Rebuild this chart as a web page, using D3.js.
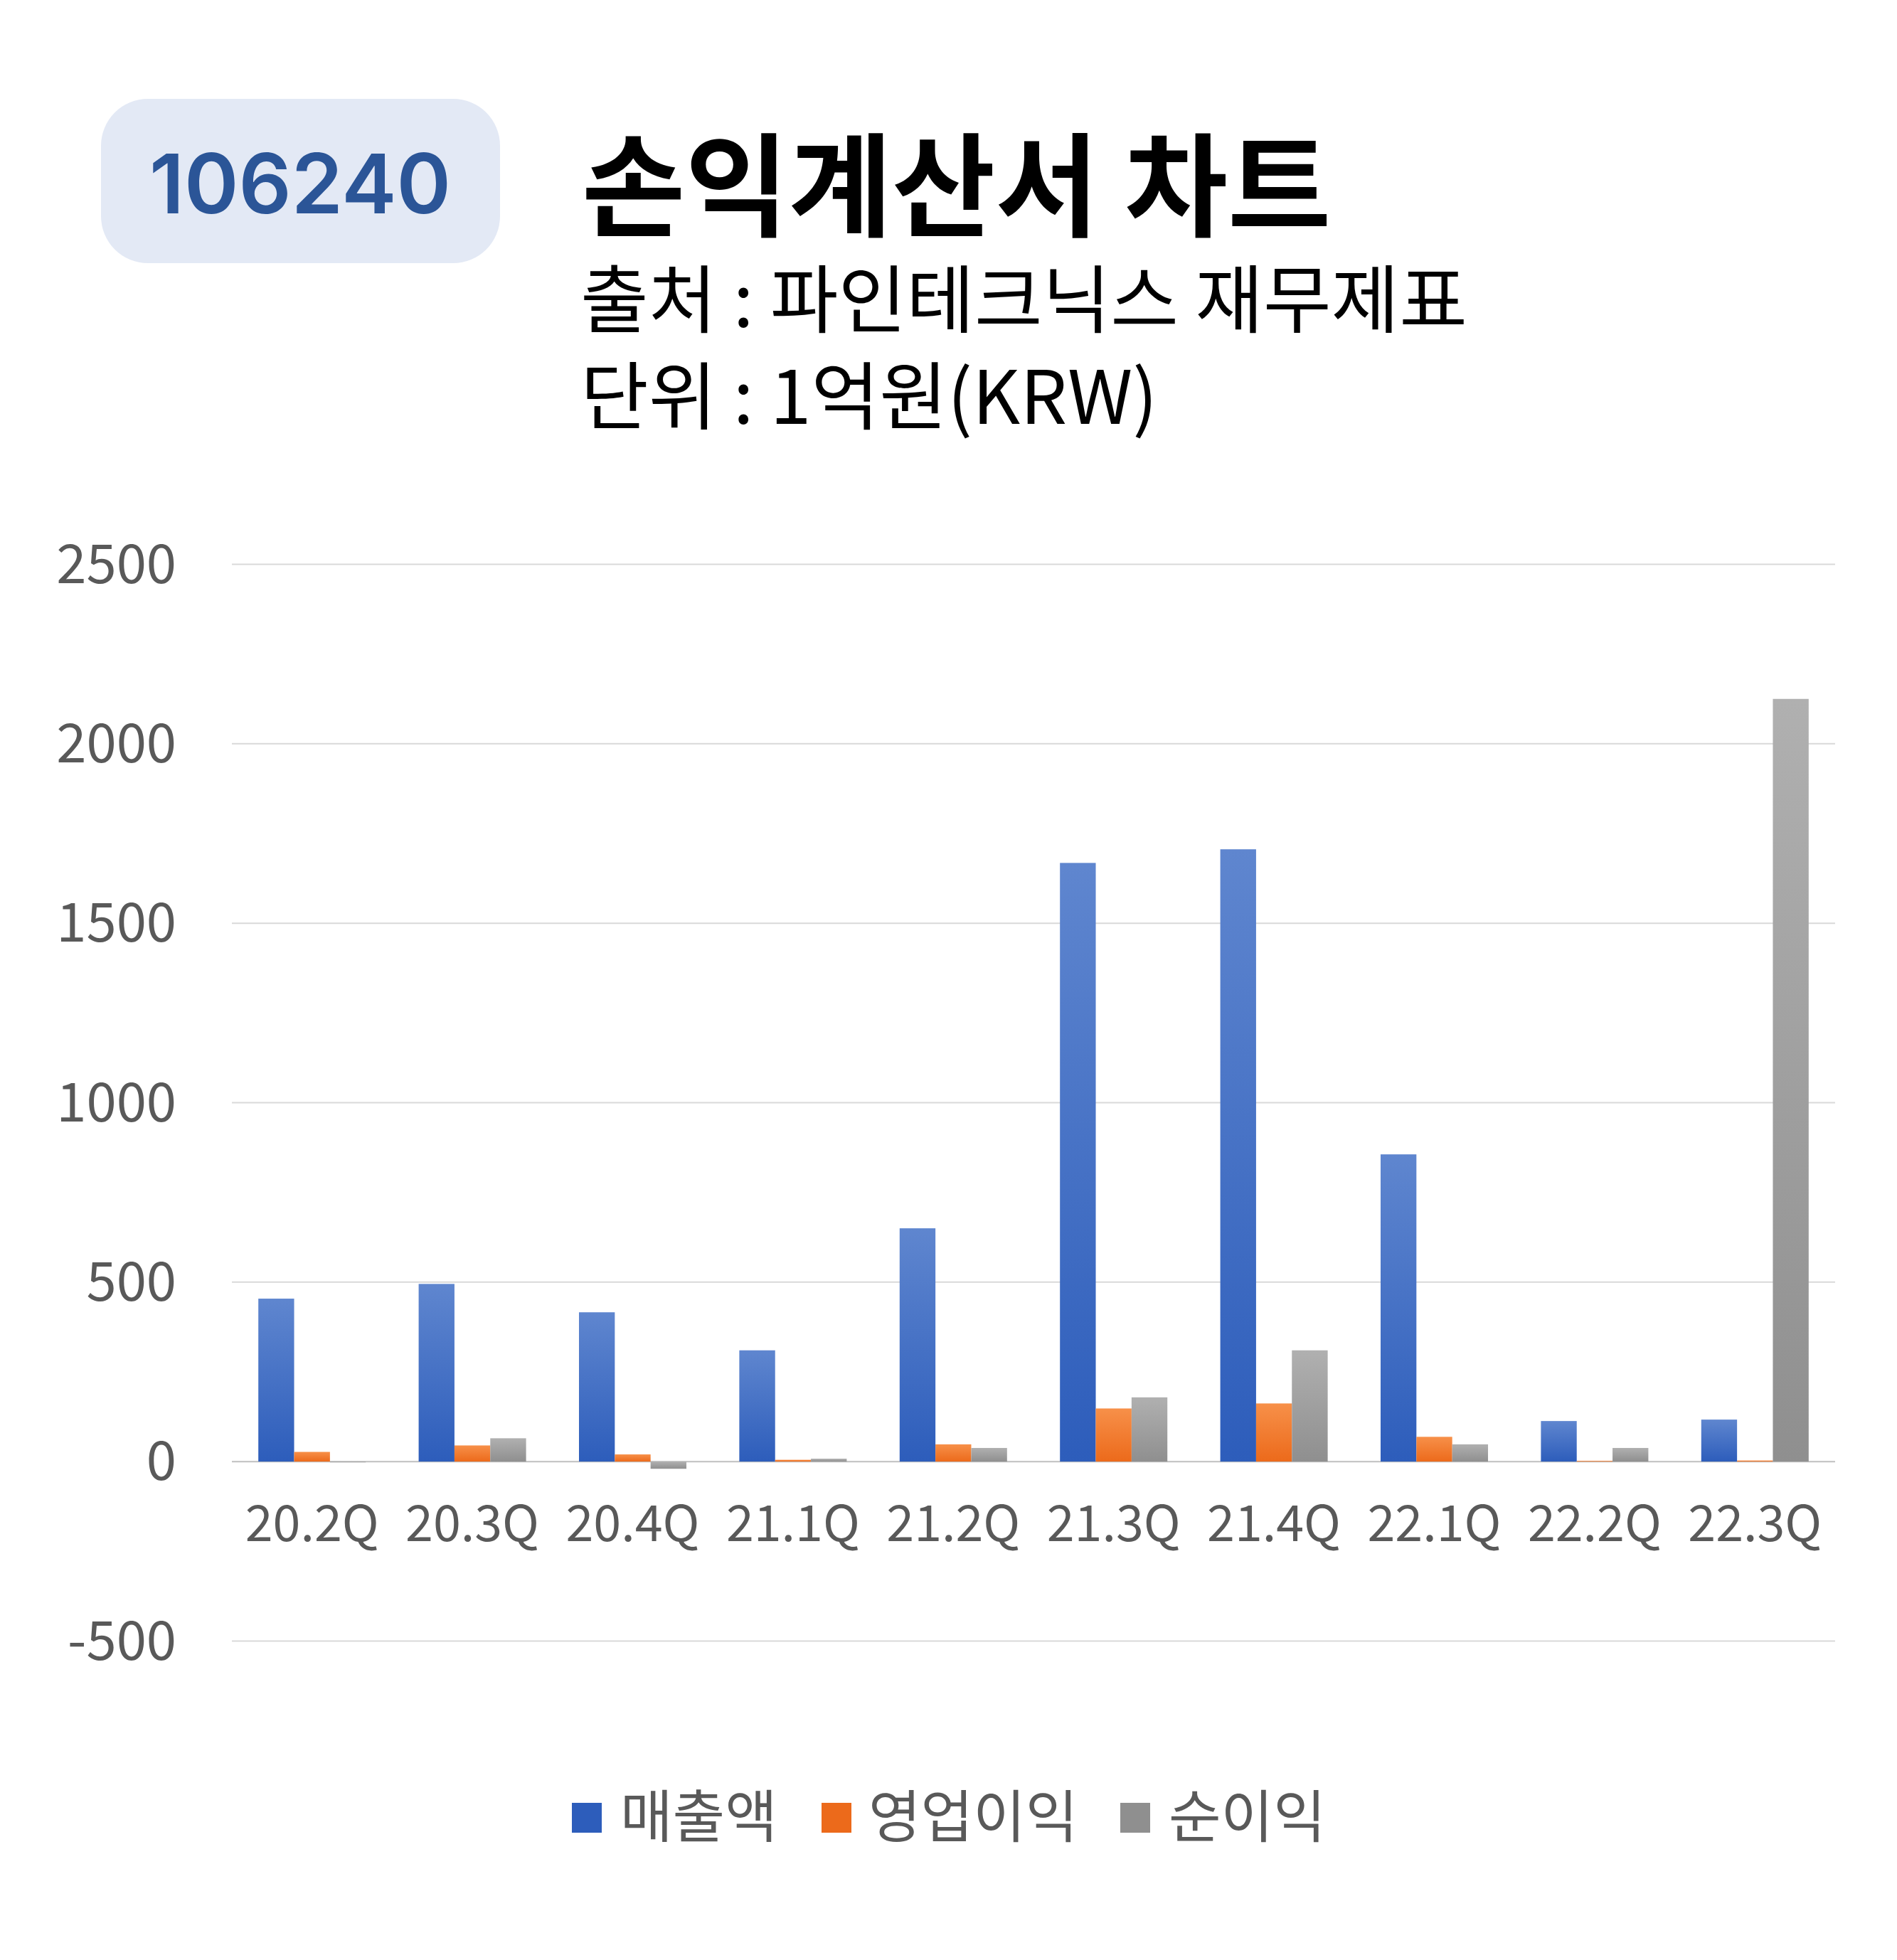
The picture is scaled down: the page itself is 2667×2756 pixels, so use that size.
<!DOCTYPE html>
<html><head><meta charset="utf-8">
<script src="https://cdn.jsdelivr.net/npm/d3@7"></script>
<style>body{margin:0;background:#fff}svg{display:block;font-family:"Noto Sans CJK KR","Noto Sans",sans-serif}</style>
</head><body>
<script>
const quarters = ['20.2Q','20.3Q','20.4Q','21.1Q','21.2Q','21.3Q','21.4Q','22.1Q','22.2Q','22.3Q'];
const seriesNames = ['매출액','영업이익','순이익'];
const sales  = [454, 495, 416, 310, 650, 1668, 1706, 856, 113, 117];
const opInc  = [27, 45, 20, 5, 48, 148, 162, 69, 2, 3];
const netInc = [-2, 65, -20, 8, 38, 179, 310, 48, 38, 2125];
const yTicks = [-500, 0, 500, 1000, 1500, 2000, 2500];

const W = 2667, H = 2756;
const svg = d3.select('body').append('svg').attr('width', W).attr('height', H);
const defs = svg.append('defs');
const grads = [['#5f86cf','#2d5dbb'],['#f79049','#ec6a1b'],['#b0b0b0','#8f8f8f']];
grads.forEach((g, i) => {
  const lg = defs.append('linearGradient').attr('id', 'g' + i).attr('x1', 0).attr('y1', 0).attr('x2', 0).attr('y2', 1);
  lg.append('stop').attr('offset', '0%').attr('stop-color', g[0]);
  lg.append('stop').attr('offset', '100%').attr('stop-color', g[1]);
});

// header
svg.append('rect').attr('x', 142).attr('y', 139).attr('width', 561).attr('height', 231).attr('rx', 66).attr('fill', '#e3e9f5');
svg.append('text').attr('x', 422).attr('y', 300).attr('text-anchor', 'middle').attr('font-family', 'Inter, sans-serif')
  .attr('font-size', 116).attr('font-weight', 600).attr('fill', '#2b5597').text('106240');
svg.append('text').attr('x', 818).attr('y', 320).attr('font-size', 158).attr('font-weight', 700).attr('fill', '#000').text('손익계산서 차트');
svg.append('text').attr('x', 816).attr('y', 460).attr('font-size', 104).attr('fill', '#000').text('출처 : 파인테크닉스 재무제표');
svg.append('text').attr('x', 816).attr('y', 596).attr('font-size', 104).attr('fill', '#000').text('단위 : 1억원(KRW)');

const y = d3.scaleLinear().domain([-500, 2500]).range([2307.5, 793.5]);
const x = d3.scaleBand().domain(quarters).range([326, 2580]).paddingInner(0.33).paddingOuter(0.165);
const xs = d3.scaleBand().domain(seriesNames).range([0, x.bandwidth()]);

svg.append('g').selectAll('line').data(yTicks).enter().append('line')
  .attr('x1', 326).attr('x2', 2580).attr('y1', d => y(d)).attr('y2', d => y(d))
  .attr('stroke', d => d === 0 ? '#bfbfbf' : '#d9d9d9').attr('stroke-width', 2);
svg.append('g').selectAll('text').data(yTicks).enter().append('text')
  .attr('x', 248).attr('y', d => y(d) + 26).attr('text-anchor', 'end')
  .attr('font-size', 76).attr('fill', '#595959').text(d => d);

const data = [sales, opInc, netInc];
seriesNames.forEach((s, si) => {
  svg.append('g').selectAll('rect').data(quarters).enter().append('rect')
    .attr('x', q => x(q) + xs(s))
    .attr('width', xs.bandwidth())
    .attr('y', (q, i) => y(Math.max(0, data[si][i])))
    .attr('height', (q, i) => Math.abs(y(data[si][i]) - y(0)))
    .attr('fill', `url(#g${si})`);
});

svg.append('g').selectAll('text').data(quarters).enter().append('text')
  .attr('x', q => x(q) + x.bandwidth() / 2).attr('y', 2167).attr('text-anchor', 'middle')
  .attr('font-size', 70).attr('fill', '#595959').text(q => q);

// legend
const legendX = [[804, 872], [1155, 1221], [1575, 1643]];
const lg = svg.append('g');
seriesNames.forEach((s, i) => {
  lg.append('rect').attr('x', legendX[i][0]).attr('y', 2535).attr('width', 42).attr('height', 42).attr('fill', grads[i][1]);
  lg.append('text').attr('x', legendX[i][1]).attr('y', 2583).attr('font-size', 80).attr('fill', '#595959').text(s);
});
</script>
</body></html>
